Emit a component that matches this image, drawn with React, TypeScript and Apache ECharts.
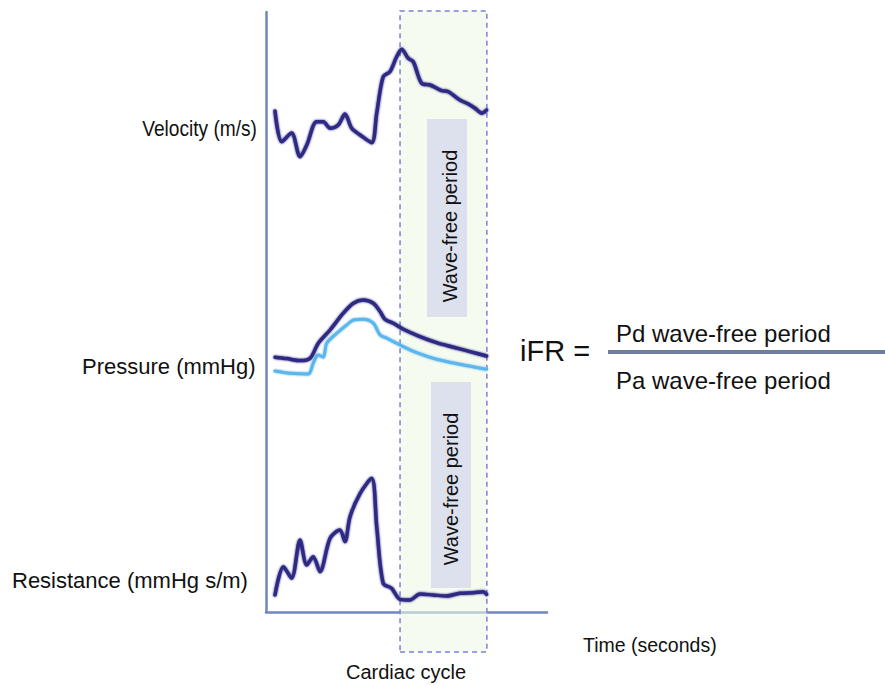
import React, { useEffect, useRef } from "react";
import * as echarts from "echarts";

// Normalised time across the plotted cardiac cycle (0 = left axis, 1 = axis end)
const wfpStart = 0.477;
const wfpEnd = 0.786;

// Velocity (arbitrary units)
const velT = [0.032, 0.056, 0.091, 0.121, 0.145, 0.18, 0.204, 0.228, 0.257, 0.281, 0.305, 0.335, 0.376, 0.394, 0.417, 0.441, 0.465, 0.483, 0.506, 0.524, 0.554, 0.584, 0.625, 0.649, 0.69, 0.72, 0.744, 0.768, 0.785];
const velV = [0.59, 0.283, 0.37, 0.133, 0.25, 0.483, 0.483, 0.417, 0.45, 0.56, 0.417, 0.35, 0.273, 0.567, 0.933, 0.983, 1.133, 1.207, 1.117, 1.083, 0.867, 0.85, 0.793, 0.783, 0.7, 0.66, 0.617, 0.567, 0.6];

// Aortic pressure Pa (mmHg)
const paT = [0.032, 0.074, 0.121, 0.157, 0.186, 0.228, 0.275, 0.311, 0.346, 0.382, 0.406, 0.423, 0.453, 0.489, 0.548, 0.607, 0.667, 0.726, 0.785];
const paV = [81.4, 80.7, 79.7, 80.9, 88.4, 95, 103.4, 108.4, 110, 108.4, 104.2, 100.4, 98.4, 95.4, 91.7, 88.7, 86.4, 84.2, 82];

// Distal pressure Pd (mmHg)
const pdT = [0.032, 0.085, 0.151, 0.168, 0.186, 0.204, 0.216, 0.252, 0.287, 0.311, 0.346, 0.382, 0.406, 0.43, 0.477, 0.536, 0.607, 0.69, 0.785];
const pdV = [74.5, 73.4, 73, 78.4, 82.5, 81.4, 88.4, 93.4, 97.5, 100, 100.4, 98.4, 92.5, 90.9, 87.5, 83.7, 80.4, 77.9, 75.4];

// Resistance (arbitrary units)
const resT = [0.032, 0.062, 0.091, 0.121, 0.145, 0.168, 0.192, 0.228, 0.263, 0.281, 0.299, 0.335, 0.376, 0.394, 0.417, 0.447, 0.477, 0.512, 0.548, 0.595, 0.643, 0.69, 0.738, 0.773, 0.785];
const resV = [0.15, 0.433, 0.317, 0.7, 0.45, 0.533, 0.383, 0.717, 0.8, 0.683, 0.933, 1.167, 1.317, 0.833, 0.267, 0.217, 0.107, 0.1, 0.16, 0.15, 0.14, 0.167, 0.173, 0.183, 0.157];

const rowLabels = ["Velocity (m/s)", "Pressure (mmHg)", "Resistance (mmHg s/m)"];
const boxLabel = "Wave-free period";
const xLabel = "Time (seconds)";
const windowLabel = "Cardiac cycle";
const formulaLeft = "iFR =";
const formulaTop = "Pd wave-free period";
const formulaBottom = "Pa wave-free period";

const zip = (a: number[], b: number[]) => a.map((t, i) => [t, b[i]]);

const FONT = "'Liberation Sans', Arial, Helvetica, sans-serif";
const NAVY = "#2d2a84";
const LIGHT = "#5ab6ec";
const AXIS = "#6f87bd";

export default function App() {
  const ref = useRef<HTMLDivElement>(null);
  useEffect(() => {
    if (!ref.current) return;
    const chart = echarts.init(ref.current, undefined, { renderer: "svg" });
    const L = 266;
    const W = 281;
    const hiddenAxis = (gi: number, min: number, max: number) => ({
      gridIndex: gi,
      type: "value",
      min,
      max,
      show: false,
    });
    const lineSeries = (xi: number, data: number[][], color: string, width: number) => ({
      type: "line",
      xAxisIndex: xi,
      yAxisIndex: xi,
      data,
      showSymbol: false,
      smooth: 0.3,
      z: 5,
      lineStyle: { color, width, shadowBlur: 2, shadowColor: color, cap: "round", join: "round" },
      silent: true,
    });
    const txt = (text: string, x: number, y: number, size: number, align: string = "left", extra: any = {}) => ({
      type: "text",
      x,
      y,
      z: 10,
      ...extra,
      style: { text, fill: "#111", font: `${size}px ${FONT}`, align, verticalAlign: "middle" },
    });
    chart.setOption({
      animation: false,
      grid: [
        { left: L, width: W, top: 12, height: 600 },
        { left: L, width: W, top: 11, height: 641 },
        { left: L, width: W, top: 40, height: 130 },
        { left: L, width: W, top: 290, height: 90 },
        { left: L, width: W, top: 470, height: 140 },
      ],
      xAxis: [
        {
          gridIndex: 0, type: "value", min: 0, max: 1,
          axisLine: { show: true, onZero: false, lineStyle: { color: AXIS, width: 2.5 } },
          axisTick: { show: false }, axisLabel: { show: false }, splitLine: { show: false },
        },
        hiddenAxis(1, 0, 1),
        hiddenAxis(2, 0, 1),
        hiddenAxis(3, 0, 1),
        hiddenAxis(4, 0, 1),
      ],
      yAxis: [
        {
          gridIndex: 0, type: "value", min: 0, max: 1,
          axisLine: { show: true, onZero: false, lineStyle: { color: AXIS, width: 2.5 } },
          axisTick: { show: false }, axisLabel: { show: false }, splitLine: { show: false },
        },
        hiddenAxis(1, 0, 1),
        hiddenAxis(2, 0, 1.3),
        hiddenAxis(3, 70, 115),
        hiddenAxis(4, 0, 1.4),
      ],
      series: [
        {
          type: "line",
          xAxisIndex: 1,
          yAxisIndex: 1,
          data: [[wfpStart, 0.5]],
          showSymbol: false,
          lineStyle: { opacity: 0 },
          z: 1,
          silent: true,
          markArea: {
            silent: true,
            z: 1,
            itemStyle: {
              color: "rgba(238,249,228,0.6)",
              borderColor: "#7882d8",
              borderWidth: 1.5,
              borderType: [5, 4],
            },
            data: [[{ xAxis: wfpStart }, { xAxis: wfpEnd }]],
          },
        },
        lineSeries(2, zip(velT, velV), NAVY, 3.5),
        lineSeries(3, zip(pdT, pdV), LIGHT, 3),
        lineSeries(3, zip(paT, paV), NAVY, 3.5),
        lineSeries(4, zip(resT, resV), NAVY, 3.5),
      ],
      graphic: [
        { type: "rect", z: 2, shape: { x: 427, y: 119, width: 40, height: 198 }, style: { fill: "#dde1ee" } },
        { type: "rect", z: 2, shape: { x: 431, y: 382, width: 40, height: 206 }, style: { fill: "#dde1ee" } },
        txt(boxLabel, 450, 226, 20, "center", { rotation: Math.PI / 2 }),
        txt(boxLabel, 451, 489, 20, "center", { rotation: Math.PI / 2 }),
        txt(rowLabels[0], 257, 128, 22, "right", { scaleX: 0.87 }),
        txt(rowLabels[1], 82, 366, 22, "left"),
        txt(rowLabels[2], 12, 580, 22, "left"),
        txt(xLabel, 583, 645, 19.5, "left"),
        txt(windowLabel, 406, 672, 20, "center"),
        txt(formulaLeft, 520, 351, 29, "left"),
        txt(formulaTop, 616, 333, 24, "left"),
        txt(formulaBottom, 616, 380, 24, "left"),
        {
          type: "line",
          z: 3,
          shape: { x1: 608, y1: 352, x2: 885, y2: 352 },
          style: { stroke: "#6e7f9e", lineWidth: 4 },
        },
      ],
    });
    return () => chart.dispose();
  }, []);
  return (
    <div
      ref={ref}
      style={{ position: "absolute", left: 0, top: 0, width: 885, height: 685, background: "#fff", overflow: "hidden" }}
    />
  );
}
